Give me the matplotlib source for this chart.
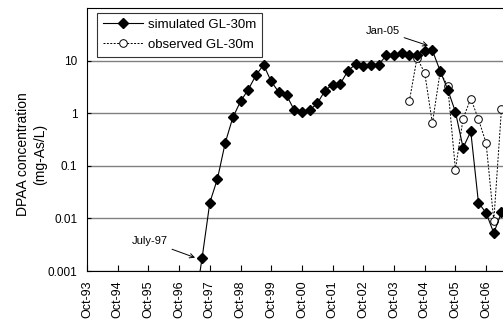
import numpy as np
import pandas as pd
import matplotlib
matplotlib.use('Agg')
import matplotlib.pyplot as plt

plt.rcParams['font.family'] = ['Liberation Sans', 'DejaVu Sans']

sim_dates = ['1997-04', '1997-07', '1997-10', '1998-01', '1998-04', '1998-07', '1998-10',
             '1999-01', '1999-04', '1999-07', '1999-10', '2000-01', '2000-04', '2000-07',
             '2000-10', '2001-01', '2001-04', '2001-07', '2001-10', '2002-01', '2002-04',
             '2002-07', '2002-10', '2003-01', '2003-04', '2003-07', '2003-10', '2004-01',
             '2004-04', '2004-07', '2004-10', '2005-01', '2005-04', '2005-07', '2005-10',
             '2006-01', '2006-04', '2006-07', '2006-10', '2007-01', '2007-04']
sim_values = [0.0002, 0.0018, 0.020, 0.057, 0.27, 0.83, 1.67,
              2.8, 5.2, 8.3, 4.0, 2.5, 2.2, 1.14,
              1.06, 1.14, 1.53, 2.67, 3.5, 3.6, 6.4,
              8.5, 7.8, 8.4, 8.4, 12.5, 13.0, 13.9,
              13.0, 13.0, 15.2, 15.6, 6.4, 2.8, 1.06,
              0.22, 0.45, 0.020, 0.0127, 0.0053, 0.013]

obs_dates = ['2004-04', '2004-07', '2004-10', '2005-01', '2005-04', '2005-07', '2005-10',
             '2006-01', '2006-04', '2006-07', '2006-10', '2007-01', '2007-04']
obs_values = [1.7, 11.3, 5.8, 0.64, 6.0, 3.3, 0.085,
              0.79, 1.9, 0.77, 0.27, 0.009, 1.2]

tick_labels = ['Oct-93', 'Oct-94', 'Oct-95', 'Oct-96', 'Oct-97', 'Oct-98', 'Oct-99',
               'Oct-00', 'Oct-01', 'Oct-02', 'Oct-03', 'Oct-04', 'Oct-05', 'Oct-06']


def to_year(s):
    d = pd.to_datetime(s)
    return d.year + (d.month - 1) / 12.0


sim_x = np.array([to_year(d) for d in sim_dates])
obs_x = np.array([to_year(d) for d in obs_dates])
tick_x = [to_year(pd.to_datetime(t, format='%b-%y')) for t in tick_labels]

fig = plt.figure(figsize=(5.03, 3.29), dpi=100)
ax = fig.add_axes([0.173, 0.176, 0.827, 0.8])

ax.plot(sim_x, sim_values, '-', color='black', lw=0.8, marker='D', ms=5,
        mfc='black', mec='black', label='simulated GL-30m', zorder=3)
ax.plot(obs_x, obs_values, '--', color='black', lw=0.7, dashes=(2, 1.5), marker='o', ms=5.5,
        mfc='white', mec='black', mew=0.7, label='observed GL-30m', zorder=2)

ax.set_yscale('log')
ax.set_ylim(0.001, 100)
ax.set_xlim(to_year('1993-10'), 2007.3)
ax.set_yticks([0.001, 0.01, 0.1, 1, 10])
ax.set_yticklabels(['0.001', '0.01', '0.1', '1', '10'], fontsize=8.5)
ax.minorticks_off()
ax.tick_params(axis='y', direction='in', length=3, width=0.8, pad=7)
ax.set_xticks(tick_x)
ax.set_xticklabels(tick_labels, rotation=90, fontsize=9)
ax.tick_params(axis='x', direction='in', length=4, width=0.8, pad=7)
ax.grid(axis='y', color='#808080', lw=1)
ax.set_axisbelow(True)
ax.spines['right'].set_visible(False)
for s in ['left', 'top', 'bottom']:
    ax.spines[s].set_linewidth(0.8)

ax.set_ylabel('DPAA concentration\n(mg-As/L)', fontsize=10, linespacing=1.3)
ax.yaxis.set_label_coords(-0.095, 0.445)

ax.annotate('Jan-05', xy=(2004.86, 19.2), xytext=(2003.39, 37),
            fontsize=8, ha='center', va='center',
            arrowprops=dict(arrowstyle='->', lw=0.7, color='black', shrinkA=1, shrinkB=0))
ax.annotate('July-97', xy=(1997.27, 0.0018), xytext=(1995.8, 0.0037),
            fontsize=8, ha='center', va='center',
            arrowprops=dict(arrowstyle='->', lw=0.7, color='black', shrinkA=1, shrinkB=0))

leg = ax.legend(loc='upper left', bbox_to_anchor=(0.024, 0.982), fontsize=9.5, frameon=True,
                fancybox=False, edgecolor='black', handlelength=3.0, borderpad=0.45,
                labelspacing=0.6, handletextpad=0.4, borderaxespad=0)
leg.get_frame().set_linewidth(0.8)

fig.savefig('out.png', dpi=100)
